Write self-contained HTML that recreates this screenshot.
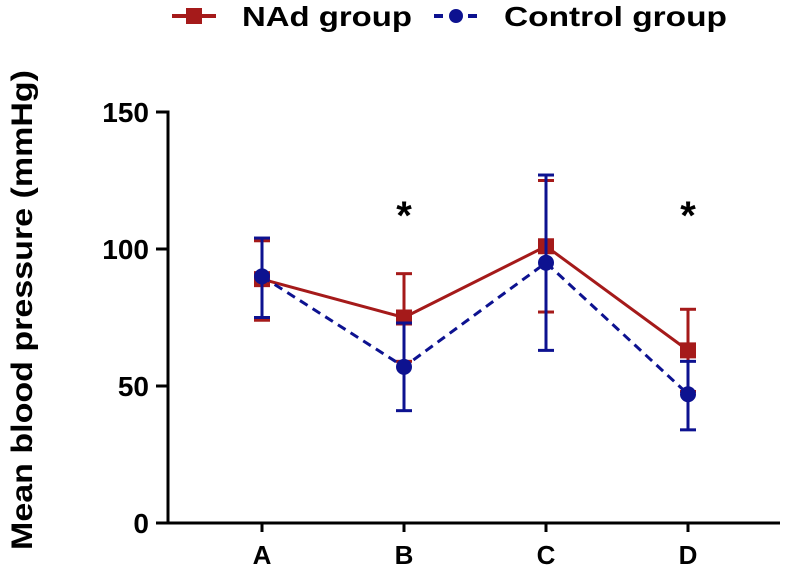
<!DOCTYPE html>
<html><head><meta charset="utf-8"><style>
body{margin:0;background:#fff;}
text{font-family:"Liberation Sans",Arial,sans-serif;font-weight:bold;}
</style></head><body>
<svg id="chart" width="786" height="565" xmlns="http://www.w3.org/2000/svg"></svg>
<script>
const categories=["A","B","C","D"];
const nadMean=[89,75,101,63];
const nadLow=[74,59,77,48];
const nadHigh=[103,91,125,78];
const ctlMean=[90,57,95,47];
const ctlLow=[75,41,63,34];
const ctlHigh=[104,73,127,59];
const yTicks=[0,50,100,150];
const sigFlags=[false,true,false,true];

const svg=document.getElementById('chart');
const NS='http://www.w3.org/2000/svg';
const x0=168,y0=523,yTop=112;
const xPos=i=>262+i*142;
const yPos=v=>y0-(v/150)*(y0-yTop);
function mk(tag,attrs,parent){const e=document.createElementNS(NS,tag);for(const k in attrs)e.setAttribute(k,attrs[k]);(parent||svg).appendChild(e);return e;}

let ya=mk('line',{x1:x0,y1:yTop-1.5,x2:x0,y2:y0+1.5,stroke:'#000','stroke-width':3});


let xa=mk('line',{x1:x0-1.5,y1:y0,x2:780,y2:y0,stroke:'#000','stroke-width':3});


yTicks.forEach(v=>{
  let t=mk('line',{x1:x0-12,y1:yPos(v),x2:x0,y2:yPos(v),stroke:'#000','stroke-width':3});
  
  
  let l=mk('text',{x:x0-19,y:yPos(v)+10,'text-anchor':'end','font-size':28});
  l.textContent=v;
  
  
});
categories.forEach((c,i)=>{
  let t=mk('line',{x1:xPos(i),y1:y0,x2:xPos(i),y2:y0+9,stroke:'#000','stroke-width':3});
  
  
  let l=mk('text',{x:xPos(i),y:y0+41,'text-anchor':'middle','font-size':26});
  l.textContent=c;
  
  
  if(sigFlags[i]){
    let s=mk('text',{x:xPos(i),y:229,'text-anchor':'middle','font-size':40});
    s.textContent='*';
    
    
  }
});
let yt=mk('text',{x:0,y:0,'text-anchor':'middle','font-size':30,textLength:480,lengthAdjust:'spacingAndGlyphs',transform:'translate(32,310) rotate(-90)'});
yt.textContent='Mean blood pressure (mmHg)';



function series(mean,lo,hi,color,dash,shape,name){
  const g=mk('g',{});
  
  
  mk('polyline',{points:mean.map((v,i)=>xPos(i)+','+yPos(v)).join(' '),fill:'none',stroke:color,'stroke-width':3,'stroke-dasharray':dash},g);
  mean.forEach((v,i)=>{
    const x=xPos(i);
    mk('line',{x1:x,y1:yPos(lo[i]),x2:x,y2:yPos(hi[i]),stroke:color,'stroke-width':3},g);
    mk('line',{x1:x-8,y1:yPos(lo[i]),x2:x+8,y2:yPos(lo[i]),stroke:color,'stroke-width':3},g);
    mk('line',{x1:x-8,y1:yPos(hi[i]),x2:x+8,y2:yPos(hi[i]),stroke:color,'stroke-width':3},g);
    let m;
    if(shape==='square')m=mk('rect',{x:x-8,y:yPos(v)-8,width:16,height:16,fill:color},g);
    else m=mk('circle',{cx:x,cy:yPos(v),r:8,fill:color},g);
    
    
  });
}
series(nadMean,nadLow,nadHigh,'#a51a1a','none','square','nad');
series(ctlMean,ctlLow,ctlHigh,'#0d1290','9,6','circle','control');

const lg=mk('g',{});


mk('line',{x1:172,y1:16,x2:216,y2:16,stroke:'#a51a1a','stroke-width':4},lg);
mk('rect',{x:186,y:8,width:16,height:16,fill:'#a51a1a'},lg);
let t1=mk('text',{x:242,y:26,'font-size':28,textLength:170,lengthAdjust:'spacingAndGlyphs'},lg);t1.textContent='NAd group';


mk('line',{x1:434,y1:16,x2:478,y2:16,stroke:'#0d1290','stroke-width':4,'stroke-dasharray':'9,8'},lg);
mk('circle',{cx:456,cy:16,r:7,fill:'#0d1290'},lg);
let t2=mk('text',{x:504,y:26,'font-size':28,textLength:223,lengthAdjust:'spacingAndGlyphs'},lg);t2.textContent='Control group';


</script>
</body></html>
